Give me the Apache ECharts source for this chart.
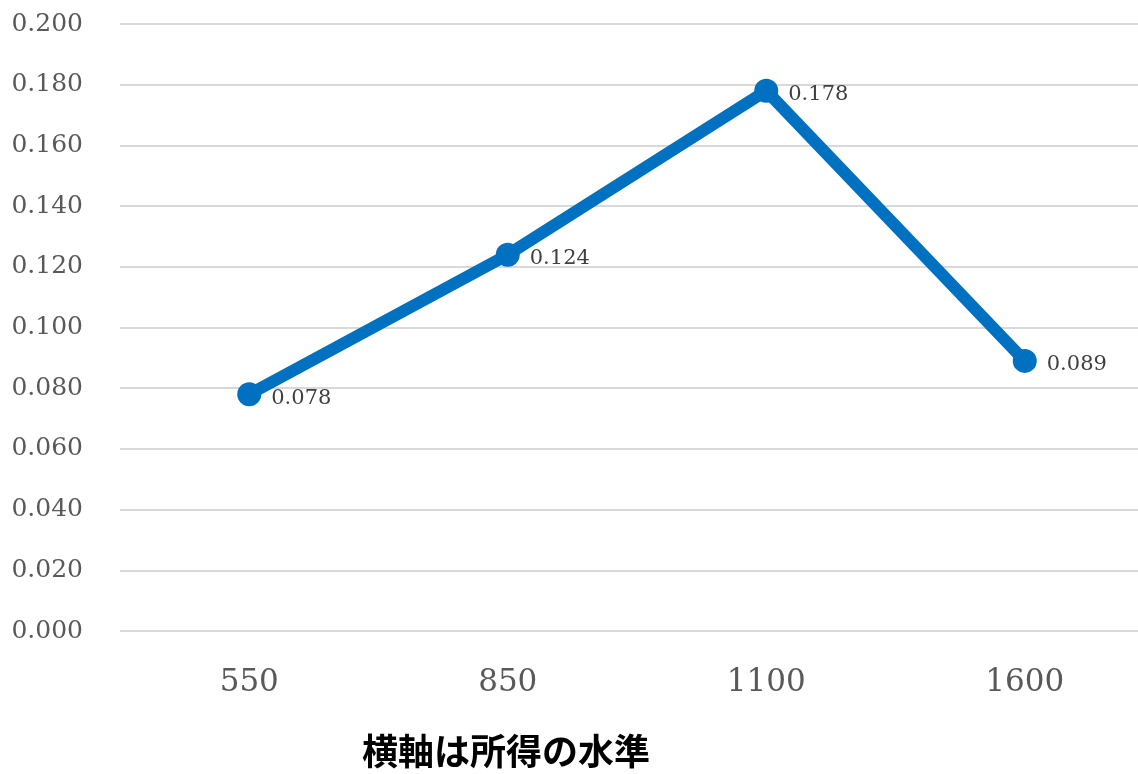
<!DOCTYPE html>
<html>
<head>
<meta charset="utf-8">
<script src="https://cdn.jsdelivr.net/npm/echarts@6/dist/echarts.min.js"></script>
<style>
  html, body { margin: 0; padding: 0; background: #fff; overflow: hidden; }
  #chart { width: 1154px; height: 774px; }
</style>
</head>
<body>
<div id="chart"></div>
<script>
const categories = ['550', '850', '1100', '1600'];
const values = [0.078, 0.124, 0.178, 0.089];
const axisTitle = '横軸は所得の水準';

const serif = '"DejaVu Serif", "Liberation Serif", serif';

const chart = echarts.init(document.getElementById('chart'));
chart.setOption({
  animation: false,
  backgroundColor: '#ffffff',
  grid: { left: 120, right: 0, top: 24, bottom: 143 },
  xAxis: {
    type: 'category',
    data: categories,
    boundaryGap: true,
    axisLine: { show: false },
    axisTick: { show: false },
    axisLabel: { color: '#595959', fontFamily: serif, fontSize: 31, margin: 36 },
    splitLine: { show: false }
  },
  yAxis: {
    type: 'value',
    min: 0,
    max: 0.2,
    interval: 0.02,
    axisLine: { show: false },
    axisTick: { show: false },
    axisLabel: {
      color: '#595959', fontFamily: serif, fontSize: 25, margin: 37,
      formatter: v => v.toFixed(3)
    },
    splitLine: { lineStyle: { color: '#d9d9d9', width: 2 } }
  },
  graphic: [{
    type: 'text',
    left: 362,
    top: 733,
    style: {
      text: axisTitle,
      font: 'bold 36px "Noto Sans CJK JP", sans-serif',
      fill: '#000000'
    }
  }],
  series: [{
    type: 'line',
    data: values,
    symbol: 'circle',
    symbolSize: 24,
    lineStyle: { color: '#0070c0', width: 12 },
    itemStyle: { color: '#0070c0' },
    label: {
      show: true,
      position: 'right',
      distance: 10,
      color: '#404040',
      fontFamily: serif,
      fontSize: 21,
      formatter: p => p.value.toFixed(3),
      offset: [0, 4]
    }
  }]
});
</script>
</body>
</html>
